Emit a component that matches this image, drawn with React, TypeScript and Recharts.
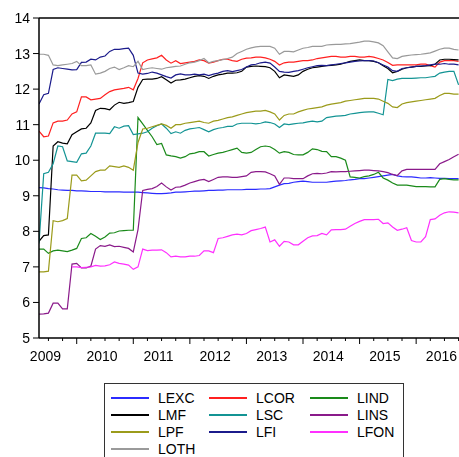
import { LineChart, Line, XAxis, YAxis, ReferenceLine, Legend } from 'recharts'

// monthly observations, counted from Jan 2009 (4 = 2009M05 ... 93 = 2016M10)
const START_MONTH = 4
const months = Array.from({ length: 90 }, (_, i) => START_MONTH + i)

const YEARS = ['2009', '2010', '2011', '2012', '2013', '2014', '2015', '2016']
const QUARTER_TICKS = [6, 9, 12, 15, 18, 21, 24, 27, 30, 33, 36, 39, 42, 45, 48, 51, 54, 57, 60, 63, 66, 69, 72, 75, 78, 81, 84, 87, 90, 93]
const Y_TICKS = [5, 6, 7, 8, 9, 10, 11, 12, 13, 14]

const LEXC = [
  9.23, 9.22, 9.2, 9.19, 9.17, 9.16, 9.15, 9.15, 9.14, 9.14,
  9.13, 9.12, 9.12, 9.12, 9.11, 9.11, 9.11, 9.11, 9.1, 9.1,
  9.1, 9.1, 9.09, 9.08, 9.07, 9.06, 9.06, 9.07, 9.08, 9.1,
  9.1, 9.11, 9.12, 9.13, 9.13, 9.14, 9.15, 9.15, 9.16, 9.16,
  9.17, 9.17, 9.17, 9.17, 9.18, 9.18, 9.18, 9.19, 9.19, 9.2,
  9.25, 9.3, 9.34, 9.35, 9.38, 9.4, 9.41, 9.4, 9.38, 9.38,
  9.38, 9.38, 9.4, 9.41, 9.42, 9.43, 9.45, 9.46, 9.48, 9.48,
  9.5, 9.52, 9.54, 9.56, 9.58, 9.6, 9.56, 9.54, 9.53, 9.53,
  9.52, 9.5, 9.5, 9.51, 9.5, 9.49, 9.49, 9.48, 9.48, 9.48,
]
const LCOR = [
  10.82, 10.66, 10.68, 11.05, 11.1, 11.1, 11.13, 11.3, 11.36, 11.78,
  11.78, 11.7, 11.72, 11.74, 11.84, 11.93, 11.98, 12.0, 12.02, 12.05,
  11.98, 12.3, 12.74, 12.82, 12.85, 12.88, 12.95, 12.82, 12.73, 12.8,
  12.72, 12.74, 12.76, 12.78, 12.82, 12.8, 12.73, 12.76, 12.8, 12.84,
  12.84, 12.8, 12.78, 12.84, 12.87, 12.88, 12.9, 12.9, 12.88, 12.84,
  12.78, 12.68, 12.74, 12.76, 12.76, 12.78, 12.8, 12.8, 12.82, 12.86,
  12.88, 12.9, 12.92, 12.92, 12.9, 12.9, 12.92, 12.92, 12.9, 12.9,
  12.92, 12.9, 12.86, 12.82, 12.75, 12.67, 12.68, 12.68, 12.68, 12.68,
  12.68, 12.7, 12.7, 12.66, 12.62, 12.76, 12.8, 12.8, 12.8, 12.78,
]
const LIND = [
  7.5, 7.5, 7.38, 7.45, 7.47, 7.45, 7.43, 7.47, 7.52, 7.8,
  7.82, 7.94, 7.86, 7.77, 7.84, 7.95, 7.96, 8.01, 8.02, 8.03,
  8.03, 11.2, 11.02, 10.84, 10.66, 10.44, 10.47, 10.15, 10.12, 10.1,
  10.06, 10.1, 10.18, 10.2, 10.24, 10.24, 10.12, 10.16, 10.2, 10.22,
  10.26, 10.3, 10.34, 10.22, 10.2, 10.22, 10.3, 10.38, 10.4, 10.38,
  10.3, 10.2, 10.24, 10.22, 10.16, 10.15, 10.15, 10.22, 10.32, 10.3,
  10.25, 10.24, 10.1, 10.1, 10.06, 10.0, 9.53, 9.52, 9.5, 9.54,
  9.56, 9.6, 9.66, 9.5, 9.44, 9.36, 9.3, 9.3, 9.3, 9.28,
  9.26, 9.26, 9.26, 9.25, 9.25, 9.46, 9.48, 9.46, 9.45, 9.45,
]
const LMF = [
  7.72, 7.88, 7.9, 10.4, 10.52, 10.48, 10.46, 10.72, 10.8, 10.88,
  10.9, 11.05, 11.4, 11.46, 11.45, 11.42, 11.55, 11.63, 11.6, 11.62,
  11.65, 12.05, 12.27, 12.28, 12.28, 12.3, 12.35, 12.26, 12.17, 12.25,
  12.26, 12.28, 12.32, 12.36, 12.38, 12.36, 12.3, 12.36, 12.4, 12.42,
  12.45, 12.45, 12.46, 12.5, 12.62, 12.64, 12.65, 12.64, 12.63, 12.6,
  12.5, 12.32, 12.4, 12.38, 12.36, 12.4, 12.5, 12.56, 12.6, 12.62,
  12.64, 12.66, 12.67, 12.68, 12.7, 12.74, 12.78, 12.8, 12.82, 12.8,
  12.8, 12.78, 12.74, 12.66, 12.58, 12.46, 12.5, 12.56, 12.6, 12.62,
  12.64, 12.64, 12.65, 12.66, 12.7, 12.82, 12.84, 12.84, 12.83, 12.82,
]
const LSC = [
  7.66, 9.62, 9.66, 9.9, 10.4, 10.38, 9.98, 9.96, 9.94, 10.18,
  10.2, 10.4, 10.76, 10.76, 10.76, 10.75, 10.94, 10.9, 10.96, 10.97,
  10.72, 10.74, 10.76, 10.8, 10.9, 10.97, 11.02, 10.9, 10.75, 10.8,
  10.76, 10.84, 10.88, 10.9, 10.92, 10.86, 10.8, 10.86, 10.9, 10.92,
  10.95, 10.95, 11.02, 11.04, 11.04, 11.04, 11.02, 11.04, 11.08, 11.06,
  11.02, 10.92, 11.02, 11.0, 11.02, 11.04, 11.05, 11.08, 11.1, 11.08,
  11.1, 11.2, 11.22, 11.24, 11.25, 11.26, 11.3, 11.32, 11.34, 11.35,
  11.36, 11.36, 11.32, 11.28, 12.27, 12.24, 12.28, 12.3, 12.3, 12.3,
  12.31, 12.32, 12.32, 12.34, 12.36, 12.45, 12.48, 12.5, 12.5, 12.12,
]
const LINS = [
  5.67, 5.68, 5.7, 5.98, 5.98, 5.82, 5.82, 7.08, 7.1, 6.97,
  6.97, 7.02, 7.5, 7.6, 7.58, 7.62, 7.57, 7.58, 7.55, 7.52,
  7.42, 8.05, 9.15, 9.18, 9.2, 9.26, 9.36, 9.25, 9.16, 9.24,
  9.25, 9.3, 9.36, 9.4, 9.44, 9.46, 9.4, 9.46, 9.52, 9.53,
  9.53, 9.52, 9.52, 9.54, 9.56, 9.66, 9.68, 9.68, 9.67, 9.62,
  9.56, 9.32, 9.5, 9.5, 9.48, 9.48, 9.48, 9.56, 9.62, 9.63,
  9.62, 9.64, 9.68, 9.67, 9.68, 9.68, 9.69, 9.7, 9.71, 9.72,
  9.72, 9.71, 9.7, 9.68, 9.65, 9.6, 9.57, 9.7, 9.74, 9.74,
  9.74, 9.74, 9.74, 9.74, 9.74, 9.9, 9.96, 10.02, 10.1, 10.17,
]
const LPF = [
  6.86, 6.86, 6.88, 8.3, 8.27, 8.3, 8.36, 9.58, 9.58, 9.42,
  9.44, 9.56, 9.68, 9.72, 9.72, 9.84, 9.82, 9.8, 9.84, 9.8,
  9.72, 10.5, 10.88, 10.9, 10.94, 10.98, 11.02, 10.98, 10.9, 11.0,
  11.0, 11.04, 11.06, 11.08, 11.1, 11.06, 11.04, 11.1, 11.12, 11.16,
  11.2, 11.22, 11.26, 11.3, 11.34, 11.36, 11.38, 11.38, 11.4, 11.36,
  11.3, 11.13, 11.26, 11.3, 11.3, 11.36, 11.4, 11.44, 11.46, 11.48,
  11.5, 11.55, 11.58, 11.6, 11.62, 11.66, 11.68, 11.7, 11.72, 11.74,
  11.74, 11.74, 11.72, 11.66, 11.6, 11.5, 11.48, 11.58, 11.62, 11.64,
  11.66, 11.68, 11.7, 11.72, 11.74, 11.82, 11.88, 11.88, 11.86, 11.86,
]
const LFI = [
  11.58, 11.84, 11.88, 12.55, 12.6, 12.58, 12.56, 12.54, 12.55, 12.75,
  12.76, 12.84, 12.82, 12.9, 12.93, 13.06, 13.12, 13.12, 13.14, 13.15,
  12.95, 12.45, 12.42, 12.44, 12.48, 12.45, 12.4, 12.35, 12.31, 12.4,
  12.43, 12.4, 12.4, 12.42, 12.4, 12.42, 12.38, 12.42, 12.45, 12.5,
  12.52, 12.49, 12.52, 12.55, 12.62, 12.68, 12.7, 12.74, 12.76, 12.73,
  12.62, 12.5, 12.48, 12.47, 12.5, 12.52, 12.56, 12.6, 12.63, 12.66,
  12.67, 12.66, 12.68, 12.7, 12.72, 12.74, 12.76, 12.78, 12.79, 12.8,
  12.8, 12.79, 12.74, 12.68, 12.62, 12.52, 12.5, 12.58, 12.6, 12.62,
  12.64, 12.65, 12.66, 12.68, 12.7, 12.7, 12.72, 12.7, 12.7, 12.68,
]
const LFON = [
  null, null, null, null, null, null, null, 7.0, 7.0, 6.98,
  6.99, 7.0, 7.04, 7.02, 7.03, 7.06, 7.14, 7.1, 7.08, 7.05,
  6.93, 7.0, 7.5, 7.46, 7.47, 7.47, 7.48, 7.4, 7.28, 7.3,
  7.28, 7.28, 7.3, 7.3, 7.32, 7.45, 7.45, 7.4, 7.8, 7.82,
  7.86, 7.9, 7.92, 7.9, 7.94, 8.02, 8.05, 8.08, 8.12, 7.7,
  7.76, 7.58, 7.72, 7.7, 7.62, 7.62, 7.72, 7.82, 7.87, 7.88,
  7.94, 7.9, 8.04, 8.05, 8.05, 8.06, 8.14, 8.22, 8.28, 8.33,
  8.33, 8.33, 8.34, 8.22, 8.24, 8.12, 8.03, 8.06, 8.1, 7.74,
  7.7, 7.7, 7.85, 8.33, 8.35, 8.45, 8.52, 8.55, 8.54, 8.52,
]
const LOTH = [
  12.98, 12.98, 12.95, 12.68, 12.66, 12.68, 12.7, 12.72, 12.78, 12.66,
  12.66, 12.68, 12.42, 12.45, 12.5, 12.58, 12.62, 12.55, 12.6, 12.66,
  12.63, 12.78, 12.55, 12.58, 12.6, 12.58, 12.56, 12.6, 12.62, 12.64,
  12.65, 12.7, 12.74, 12.76, 12.8, 12.86, 12.74, 12.78, 12.8, 12.83,
  12.86, 12.9, 13.0, 13.06, 13.12, 13.16, 13.19, 13.2, 13.2, 13.2,
  13.15, 12.98, 13.06, 13.06, 13.05, 13.1, 13.15, 13.17, 13.2, 13.2,
  13.2, 13.24, 13.25, 13.26, 13.26, 13.27, 13.28, 13.3, 13.32, 13.35,
  13.35, 13.33, 13.3, 13.22, 13.05, 12.88, 12.86, 12.92, 12.94, 12.96,
  12.97, 12.98, 13.0, 13.02, 13.07, 13.12, 13.15, 13.15, 13.12, 13.1,
]

const SERIES = [
  { name: 'LEXC', color: '#2b2bff', values: LEXC },
  { name: 'LCOR', color: '#ff2020', values: LCOR },
  { name: 'LIND', color: '#1a8a1a', values: LIND },
  { name: 'LMF', color: '#000000', values: LMF },
  { name: 'LSC', color: '#139494', values: LSC },
  { name: 'LINS', color: '#8a1a8a', values: LINS },
  { name: 'LPF', color: '#9b9b1b', values: LPF },
  { name: 'LFI', color: '#1b1b8b', values: LFI },
  { name: 'LFON', color: '#ff30ff', values: LFON },
  { name: 'LOTH', color: '#9a9a9a', values: LOTH },
]

const data = months.map((t, i) => {
  const row: Record<string, number | null> = { t }
  SERIES.forEach((s) => { row[s.name] = s.values[i] })
  return row
})

const FONT = '"Liberation Sans", Arial, sans-serif'
const PLOT_BOTTOM = 330

function MonthTick({ x, payload }: any) {
  const t = payload.value
  const major = t % 12 === 0
  const label = t % 12 === 6 ? YEARS[(t - 6) / 12] : null
  return (
    <g>
      <line x1={x} x2={x} y1={PLOT_BOTTOM} y2={PLOT_BOTTOM + (major ? 6 : 3)} stroke="#000" />
      {label && (
        <text x={x - 3} y={PLOT_BOTTOM + 23} textAnchor="middle" fontSize={14} fill="#000">
          {label}
        </text>
      )}
    </g>
  )
}

function LegendBox() {
  return (
    <div
      style={{
        boxSizing: 'border-box', width: 300, height: 90, border: '1px solid #333',
        paddingTop: 5, display: 'grid', gridTemplateColumns: '98px 101px 100px',
        gridAutoRows: '17px', fontFamily: FONT, fontSize: 14, color: '#000', background: '#fff',
      }}
    >
      {SERIES.map((s) => (
        <div key={s.name} style={{ display: 'flex', alignItems: 'center', paddingLeft: 6 }}>
          <span style={{ width: 38, height: 2, background: s.color, marginRight: 9 }} />
          <span>{s.name}</span>
        </div>
      ))}
    </div>
  )
}

export default function App() {
  // fixed so the cropped chart never makes the page scroll
  return (
    <div style={{ position: 'fixed', left: 8, top: 8, width: 451, height: 449, overflow: 'hidden', fontFamily: FONT }}>
      <LineChart width={460} height={470} data={data} margin={{ top: 10, right: 8, left: 0, bottom: 100 }}>
        <XAxis
          dataKey="t"
          type="number"
          domain={[4, 93.3]}
          allowDataOverflow
          ticks={QUARTER_TICKS}
          interval={0}
          tick={(props: any) => <MonthTick {...props} />}
          tickLine={false}
          tickSize={0}
          height={40}
          axisLine={{ stroke: '#000', strokeWidth: 1.5 }}
        />
        <YAxis
          type="number"
          domain={[5, 14]}
          ticks={Y_TICKS}
          interval={0}
          width={31}
          tickSize={6}
          tickMargin={3}
          tick={{ fill: '#000', fontSize: 14 }}
          tickLine={{ stroke: '#000' }}
          axisLine={{ stroke: '#000', strokeWidth: 1.5 }}
        />
        <ReferenceLine y={14} stroke="#000" strokeWidth={1.5} />
        {SERIES.map((s) => (
          <Line
            key={s.name}
            dataKey={s.name}
            stroke={s.color}
            strokeWidth={1.2}
            dot={false}
            type="linear"
            isAnimationActive={false}
          />
        ))}
        <Legend
          layout="horizontal"
          verticalAlign="middle"
          align="center"
          wrapperStyle={{ left: 96, top: 375, width: 300, height: 90 }}
          content={() => <LegendBox />}
        />
      </LineChart>
    </div>
  )
}
